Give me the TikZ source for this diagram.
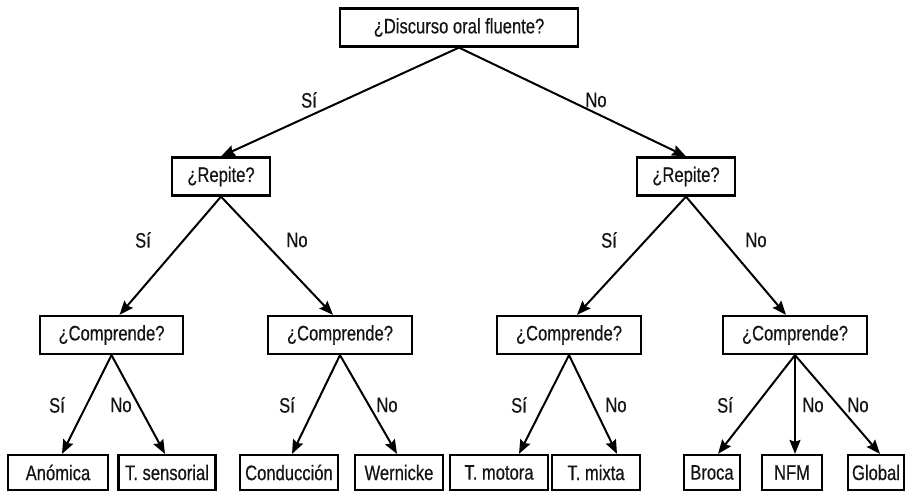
\documentclass[tikz,border=0pt]{standalone}
\usepackage{fontspec}
\setmainfont{Liberation Sans}[FakeStretch=0.79,FakeBold=0.5]
\usetikzlibrary{arrows.meta}
\begin{document}
\begin{tikzpicture}[x=1pt,y=-1pt,
  every node/.style={font=\fontsize{21}{24}\selectfont, text=black!92},
  box/.style={draw=black, line width=2.2pt, minimum height=38pt, inner sep=0pt},
  leaf/.style={draw=black, line width=2.2pt, minimum height=35pt, inner sep=0pt},
  arr/.style={line width=2pt, -{Stealth[length=14pt,width=11pt,inset=2pt]}},
  lbl/.style={inner sep=0pt}]
\useasboundingbox (0,0) rectangle (906,491);
% question boxes
\node[box, minimum width=238pt] (top) at (459,27.5) {¿Discurso oral fluente?};
\node[box, minimum width=98pt] (rL) at (221,176.5) {¿Repite?};
\node[box, minimum width=98pt] (rR) at (686,176.5) {¿Repite?};
\node[box, minimum width=143pt] (c1) at (111.5,335) {¿Comprende?};
\node[box, minimum width=144pt] (c2) at (340,335) {¿Comprende?};
\node[box, minimum width=144pt] (c3) at (569,335) {¿Comprende?};
\node[box, minimum width=144pt] (c4) at (795,335) {¿Comprende?};
% leaves
\node[leaf, minimum width=100pt] (l1) at (58,472.5) {Anómica};
\node[leaf, minimum width=97pt] (l2) at (167,472.5) {T. sensorial};
\node[leaf, minimum width=98pt] (l3) at (289,472.5) {Conducción};
\node[leaf, minimum width=88pt] (l4) at (399,472.5) {Wernicke};
\node[leaf, minimum width=98pt] (l5) at (499,472.5) {T. motora};
\node[leaf, minimum width=88pt] (l6) at (596,472.5) {T. mixta};
\node[leaf, minimum width=56pt] (l7) at (712,472.5) {Broca};
\node[leaf, minimum width=60pt] (l8) at (792,472.5) {NFM};
\node[leaf, minimum width=56pt] (l9) at (876,472.5) {Global};
% connectors
\draw[arr] (top.south) -- (rL.north);
\draw[arr] (top.south) -- (rR.north);
\draw[arr] (rL.south) -- ([xshift=8pt]c1.north);
\draw[arr] (rL.south) -- ([xshift=-7pt]c2.north);
\draw[arr] (rR.south) -- ([xshift=8pt]c3.north);
\draw[arr] (rR.south) -- ([xshift=-9pt]c4.north);
\draw[arr] (c1.south) -- ([xshift=4pt]l1.north);
\draw[arr] (c1.south) -- ([xshift=-2pt]l2.north);
\draw[arr] (c2.south) -- ([xshift=3pt]l3.north);
\draw[arr] (c2.south) -- ([xshift=-2pt]l4.north);
\draw[arr] (c3.south) -- ([xshift=20pt]l5.north);
\draw[arr] (c3.south) -- ([xshift=21pt]l6.north);
\draw[arr] (c4.south) -- ([xshift=6pt]l7.north);
\draw[arr] (c4.south) -- ([xshift=3pt]l8.north);
\draw[arr] (c4.south) -- ([xshift=4pt]l9.north);
% labels
\node[lbl] (s0) at (309,100) {Sí};
\node[lbl] (n0) at (596,100) {No};
\node[lbl] (s1) at (143,240) {Sí};
\node[lbl] (n1) at (297,240) {No};
\node[lbl] (s2) at (609,240) {Sí};
\node[lbl] (n2) at (756,240) {No};
\node[lbl] (s3) at (57,405) {Sí};
\node[lbl] (n3) at (121,405) {No};
\node[lbl] (s4) at (287,405) {Sí};
\node[lbl] (n4) at (387,405) {No};
\node[lbl] (s5) at (519,405) {Sí};
\node[lbl] (n5) at (616,405) {No};
\node[lbl] (s6) at (725,405) {Sí};
\node[lbl] (n6) at (813,405) {No};
\node[lbl] (n7) at (858,405) {No};
\end{tikzpicture}
\end{document}
